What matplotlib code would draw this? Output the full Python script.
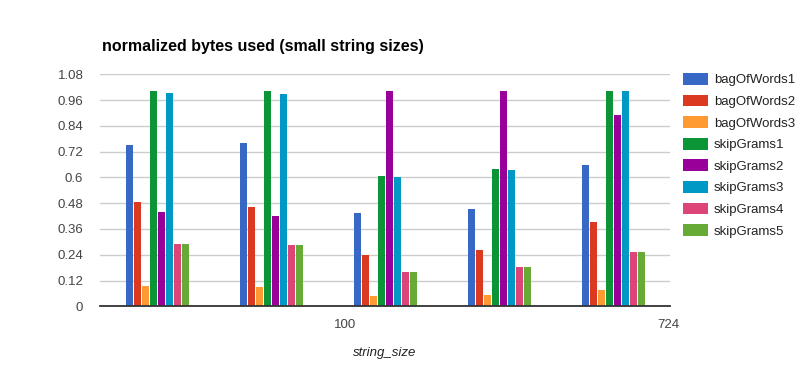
import matplotlib
matplotlib.use("Agg")
import matplotlib.pyplot as plt
import numpy as np

plt.rcParams['font.family'] = ['Liberation Sans', 'DejaVu Sans']

categories = ["g1", "g2", "g3", "g4", "g5"]
series_names = ["bagOfWords1", "bagOfWords2", "bagOfWords3", "skipGrams1",
                "skipGrams2", "skipGrams3", "skipGrams4", "skipGrams5"]
bagOfWords1 = [0.751, 0.760, 0.434, 0.453, 0.658]
bagOfWords2 = [0.486, 0.462, 0.239, 0.262, 0.392]
bagOfWords3 = [0.094, 0.090, 0.048, 0.053, 0.076]
skipGrams1 = [1.0, 1.0, 0.607, 0.639, 1.0]
skipGrams2 = [0.439, 0.420, 1.0, 1.0, 0.890]
skipGrams3 = [0.993, 0.988, 0.602, 0.635, 1.0]
skipGrams4 = [0.290, 0.285, 0.160, 0.183, 0.253]
skipGrams5 = [0.290, 0.285, 0.160, 0.183, 0.253]
series = [bagOfWords1, bagOfWords2, bagOfWords3, skipGrams1,
          skipGrams2, skipGrams3, skipGrams4, skipGrams5]
colors = ["#3768c6", "#dc3a20", "#ff9a33", "#0b9537",
          "#990099", "#0099c6", "#dd4477", "#67aa35"]
y_ticks = [0, 0.12, 0.24, 0.36, 0.48, 0.6, 0.72, 0.84, 0.96, 1.08]
y_tick_labels = ["0", "0.12", "0.24", "0.36", "0.48", "0.6", "0.72", "0.84", "0.96", "1.08"]
x_tick_labels = ["100", "724"]
x_tick_pos = [1.65, 4.49]

W, H = 807, 377
fig = plt.figure(figsize=(W / 100, H / 100), dpi=100)
L, R, T, B = 100, 670, 74.3, 306.3
ax = fig.add_axes([L / W, 1 - B / H, (R - L) / W, (B - T) / H])

x = np.arange(len(categories))
pitch = 8 / 114
bw = 7 / 114
n = len(series)
handles = []
for i, (vals, c) in enumerate(zip(series, colors)):
    off = (i - (n - 1) / 2) * pitch
    h = ax.bar(x + off, vals, width=bw, color=c, zorder=3, label=series_names[i])
    handles.append(h)

ax.set_xlim(-0.5, 4.5)
ax.set_ylim(0, 1.08)
ax.set_yticks(y_ticks)
ax.set_yticklabels(y_tick_labels, fontsize=9.5, color="#444444")
ax.set_xticks(x_tick_pos)
ax.set_xticklabels(x_tick_labels, fontsize=9.5, color="#444444")
ax.tick_params(axis='both', length=0)
ax.tick_params(axis='y', pad=12)
ax.tick_params(axis='x', pad=9)
ax.grid(axis='y', color="#cccccc", linewidth=1, zorder=0)
for s in ['top', 'right', 'left']:
    ax.spines[s].set_visible(False)
ax.spines['bottom'].set_color("#333333")
ax.spines['bottom'].set_linewidth(1.3)
ax.spines['bottom'].set_zorder(4)

ax.set_xlabel("string_size", fontsize=9.5, style='italic', color="#222222", labelpad=12)

fig.text(102 / W, 1 - 47 / H, "normalized bytes used (small string sizes)",
         fontsize=11.5, fontweight='bold', color="#000000", va='center', ha='left')

leg = fig.legend(handles=handles, loc='upper left', bbox_to_anchor=(683 / W, 1 - 73 / H),
                 frameon=False, fontsize=9.5, handlelength=1.9, handleheight=1.0,
                 labelspacing=0.62, handletextpad=0.45, borderaxespad=0, borderpad=0)
for t in leg.get_texts():
    t.set_color("#222222")

fig.savefig("out.png", dpi=100)
